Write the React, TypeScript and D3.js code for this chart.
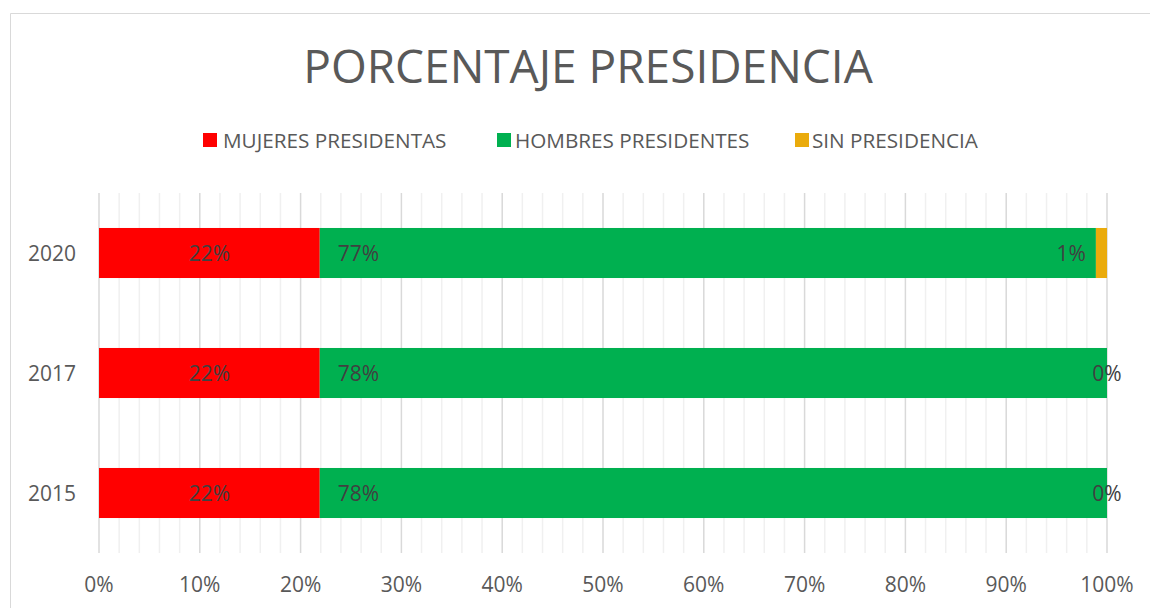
import React from "react";
import * as d3 from "d3";

const years = ["2020", "2017", "2015"];
const mujeres = [21.9, 21.9, 21.9];
const hombres = [77.0, 78.1, 78.1];
const sinPresidencia = [1.1, 0, 0];
const seriesNames = ["MUJERES PRESIDENTAS", "HOMBRES PRESIDENTES", "SIN PRESIDENCIA"];
const seriesColors = ["#FF0000", "#00B050", "#EAAB0C"];
const xTicks = [0, 10, 20, 30, 40, 50, 60, 70, 80, 90, 100];
const title = "PORCENTAJE PRESIDENCIA";

const W = 1150;
const H = 608;
const FONT = "'Open Sans', sans-serif";

export default function App() {
  const x = d3.scaleLinear().domain([0, 100]).range([99, 1107]);
  const y = d3.scaleBand().domain(years).range([193, 553]).paddingInner(0.583).paddingOuter(0.2915);
  const minorTicks = d3.range(0, 101, 2);

  const rows = years.map((yr, i) => ({ year: yr, values: [mujeres[i], hombres[i], sinPresidencia[i]] }));
  const stacked = rows.map((r) => {
    let acc = 0;
    return r.values.map((v, k) => {
      const s = { k, x0: acc, x1: acc + v, v, year: r.year };
      acc += v;
      return s;
    });
  });

  const legendItems = [
    { sq: 203, tx: 223 },
    { sq: 497, tx: 515 },
    { sq: 795, tx: 812 },
  ];

  const bw = y.bandwidth();

  return (
    <div style={{ position: "fixed", left: 0, top: 0, width: W, height: H, background: "#fff" }}>
      <svg width={W} height={H} style={{ display: "block" }}>
        <rect x={0} y={0} width={W} height={H} fill="#fff" />
        <path d={`M10.5,${H + 5} L10.5,13.5 L${W + 5},13.5`} fill="none" stroke="#D9D9D9" strokeWidth={1} />
        <text x={588} y={83} textAnchor="middle" fontFamily={FONT} fontSize={46} fill="#595959">
          {title}
        </text>
        {seriesNames.map((n, i) => (
          <g key={n}>
            <rect x={legendItems[i].sq} y={133} width={14} height={14} fill={seriesColors[i]} />
            <text x={legendItems[i].tx} y={148} fontFamily={FONT} fontSize={20.7} fill="#595959">
              {n}
            </text>
          </g>
        ))}
        {minorTicks.map((t) => (
          <line
            key={"m" + t}
            x1={x(t)}
            x2={x(t)}
            y1={193}
            y2={553}
            stroke={t % 10 === 0 ? "#D9D9D9" : "#F0F0F0"}
            strokeWidth={1.5}
          />
        ))}
        {stacked.map((segs) =>
          segs.map((s) => (
            <rect
              key={s.year + s.k}
              x={x(s.x0)}
              y={y(s.year)}
              width={Math.max(0, x(s.x1) - x(s.x0))}
              height={bw}
              fill={seriesColors[s.k]}
            />
          ))
        )}
        {stacked.map((segs) =>
          segs.map((s) => {
            const cy = (y(s.year) as number) + bw / 2 + 7.5;
            const label = Math.round(s.v) + "%";
            let lx = (x(s.x0) + x(s.x1)) / 2;
            let anchor: "start" | "middle" | "end" = "middle";
            if (s.k === 1) {
              lx = x(s.x0) + 18;
              anchor = "start";
            } else if (s.k === 2 && s.v > 0) {
              lx = x(s.x0) - 10;
              anchor = "end";
            }
            return (
              <text key={"l" + s.year + s.k} x={lx} y={cy} textAnchor={anchor} fontFamily={FONT} fontSize={21} fill="#404040">
                {label}
              </text>
            );
          })
        )}
        {years.map((yr) => (
          <text
            key={"y" + yr}
            x={76}
            y={(y(yr) as number) + bw / 2 + 7.5}
            textAnchor="end"
            fontFamily={FONT}
            fontSize={21}
            fill="#595959"
          >
            {yr}
          </text>
        ))}
        {xTicks.map((t) => (
          <text key={"t" + t} x={x(t)} y={592} textAnchor="middle" fontFamily={FONT} fontSize={21} fill="#595959">
            {t + "%"}
          </text>
        ))}
      </svg>
    </div>
  );
}
